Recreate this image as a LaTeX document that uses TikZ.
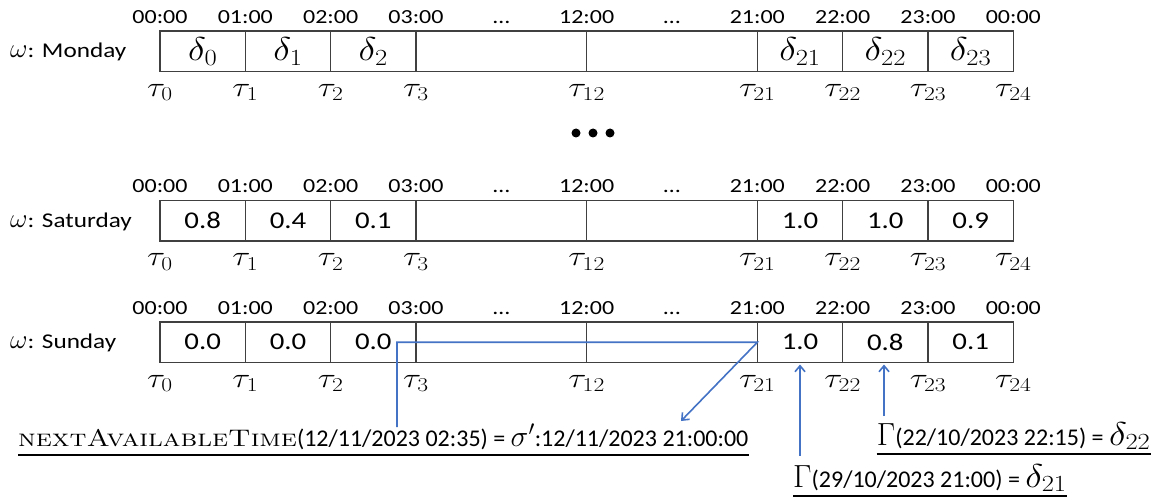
\RequirePackage{fix-cm}
\documentclass[tikz,border=0pt]{standalone}
\usepackage[no-math]{fontspec}
\newfontfamily\carl{Carlito}
\newfontfamily\carlw[FakeStretch=1.2]{Carlito}
\usetikzlibrary{arrows.meta}
\definecolor{cblue}{HTML}{4472C4}
\definecolor{cline}{HTML}{404040}
\newcommand\dm[1]{{\fontsize{33}{37}\selectfont\scalebox{1.15}[1]{$#1$}}}
\newcommand\vl[1]{\raisebox{-2pt}{\carlw\fontsize{24}{28}\selectfont #1}}
\newcommand\taul[1]{\scalebox{1.2}[1]{$\tau_{#1}$}}
\newcommand\om{{\fontsize{27}{30}\selectfont$\omega$}}
\tikzset{
  cell/.style={draw=cline, line width=1.2pt, minimum width=85.33pt, minimum height=40.5pt, inner sep=0pt, outer sep=0pt},
  wcell/.style={cell, minimum width=170.67pt},
  tlab/.style={font=\carlw\fontsize{20}{24}\selectfont, anchor=base, inner sep=0pt},
  taulab/.style={font=\fontsize{28}{32}\selectfont, anchor=base, inner sep=0pt},
  rowlab/.style={font=\carlw\fontsize{21}{25}\selectfont, anchor=base west, inner sep=0pt},
  blab/.style={font=\carl\fontsize{24}{28}\selectfont, anchor=base west, inner xsep=0pt, inner ysep=8pt},
  conn/.style={draw=cblue, line width=1.6pt},
  tip/.style={-{Straight Barb[length=6pt,width=10pt]}},
  uline/.style={draw=black, line width=1.2pt},
}
\newcommand\daterow[9]{%
  \pgfmathsetmacro\yc{#2+20.25}%
  \pgfmathsetmacro\ylab{#2+26.75}%
  \pgfmathsetmacro\ytm{#2-7.5}%
  \pgfmathsetmacro\ytau{#2+65.5}%
  \node[rowlab] (#1lab) at (10,\ylab) {\om: #3};
  \node[cell] (#1c0) at (202.67,\yc) {#4};
  \node[cell] (#1c1) at (288,\yc) {#5};
  \node[cell] (#1c2) at (373.33,\yc) {#6};
  \node[wcell] (#1c3) at (501.33,\yc) {};
  \node[wcell] (#1c12) at (672,\yc) {};
  \node[cell] (#1c21) at (800,\yc) {#7};
  \node[cell] (#1c22) at (885.33,\yc) {#8};
  \node[cell] (#1c23) at (970.67,\yc) {#9};
  \foreach \xx/\tm/\kk in {160/00:00/0, 245.33/01:00/1, 330.67/02:00/2, 416/03:00/3, 586.67/12:00/12, 757.33/21:00/21, 842.67/22:00/22, 928/23:00/23, 1013.33/00:00/24}{
    \node[tlab] (#1t\kk) at (\xx,\ytm) {\tm};
    \node[taulab] (#1tau\kk) at (\xx,\ytau) {\taul{\kk}};
  }
  \node[tlab] (#1e1) at (501.33,\ytm) {…};
  \node[tlab] (#1e2) at (672,\ytm) {…};
}
\begin{document}
\begin{tikzpicture}[x=1pt,y=-1pt]
\useasboundingbox[fill=white] (0,0) rectangle (1155,502);
\daterow{mon}{31}{Monday}{\dm{\delta_0}}{\dm{\delta_1}}{\dm{\delta_2}}{\dm{\delta_{21}}}{\dm{\delta_{22}}}{\dm{\delta_{23}}}
\daterow{sat}{200.5}{Saturday}{\vl{0.8}}{\vl{0.4}}{\vl{0.1}}{\vl{1.0}}{\vl{1.0}}{\vl{0.9}}
\daterow{sun}{322}{Sunday}{\vl{0.0}}{\vl{0.0}}{\vl{0.0}}{\vl{1.0}}{\vl{0.8}}{\vl{0.1}}
\fill (576,133) circle (4.5pt);
\fill (593,133) circle (4.5pt);
\fill (610,133) circle (4.5pt);
\node[blab] (nat) at (18,446) {{\rmfamily\fontsize{24}{28}\selectfont\scalebox{1.2}[1]{\scshape nextAvailableTime}}(12/11/2023 02:35) = {\fontsize{30}{34}\selectfont$\sigma'$}:12/11/2023 21:00:00};
\node[blab] (g2) at (876.7,445) {{\fontsize{32}{36}\selectfont$\Gamma$}(22/10/2023 22:15) = \dm{\delta_{22}}};
\node[blab] (g1) at (793,487) {{\fontsize{32}{36}\selectfont$\Gamma$}(29/10/2023 21:00) = \dm{\delta_{21}}};
\foreach \n in {nat,g1,g2}
  \draw[uline] ([yshift=-9pt]\n.base west) -- ([yshift=-9pt]\n.base east);
\coordinate (natsrc) at (397,427);
\coordinate (sigend) at (681,421);
\coordinate (g2top) at (884,416);
\draw[conn,tip] (natsrc) |- (sunc21.west) -- (sigend);
\draw[conn,tip,shorten >=2pt] (g1.north -| sunc21.south) -- (sunc21.south);
\draw[conn,tip,shorten >=2pt] (g2top) -- (g2top |- sunc22.south);
\end{tikzpicture}
\end{document}
